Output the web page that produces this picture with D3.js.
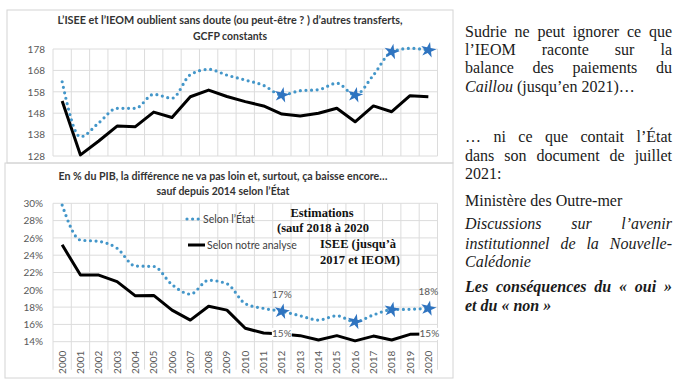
<!DOCTYPE html>
<html lang="fr">
<head>
<meta charset="utf-8">
<title>Transferts ISEE / IEOM</title>
<script src="https://d3js.org/d3.v7.min.js"></script>
<style>
    body { margin: 0; background: #fff; }
    #wrap { position: relative; width: 684px; height: 385px; overflow: hidden; }
    .note {
        position: absolute;
        left: 465px;
        width: 207px;
        font-family: "Liberation Serif", "Times New Roman", serif;
        font-size: 16px;
        line-height: 18px;
        color: #1a1a1a;
        white-space: nowrap;
    }
    .just { text-align: justify; text-align-last: justify; }
</style>
</head>
<body>
<div id="wrap">
    <svg id="chart" width="684" height="385"></svg>
</div>
<script>
// categories
var years = ["2000","2001","2002","2003","2004","2005","2006","2007","2008","2009","2010",
             "2011","2012","2013","2014","2015","2016","2017","2018","2019","2020"];

// top chart : GCFP constants
var topEtat     = [162.7,137.0,143.5,150.3,150.3,156.8,155.0,166.0,168.5,165.8,163.5,
                   161.0,156.5,158.5,159.0,162.0,156.5,165.8,176.7,178.3,177.5];
var topAnalyse  = [153.7,128.5,135.0,142.0,141.7,148.5,146.0,155.7,158.8,155.8,153.4,
                   151.4,147.6,146.7,148.0,150.3,144.0,151.4,148.7,156.2,155.7];
var topTicks = [128, 138, 148, 158, 168, 178];

// bottom chart : % du PIB
var pibEtat     = [29.8,25.75,25.6,24.8,22.75,22.7,20.6,19.5,21.1,20.7,18.4,
                   17.85,17.5,17.0,16.5,17.0,16.3,17.1,17.7,17.75,17.85];
var pibAnalyse  = [25.2,21.7,21.7,20.95,19.3,19.35,17.65,16.5,18.1,17.65,15.55,
                   15.0,14.9,14.7,14.2,14.7,14.1,14.65,14.2,14.85,14.9];
var pibTicks = [14, 16, 18, 20, 22, 24, 26, 28, 30];

var markerYears = ["2012", "2016", "2018", "2020"];
var etatLabels = [{ year: "2012", text: "17%" }, { year: "2020", text: "18%" }];
var analyseLabels = [{ year: "2012", text: "15%" }, { year: "2020", text: "15%" }];

var legendNames = ["Selon l\u2019État", "Selon notre analyse"];
var annotation = ["Estimations", "(sauf 2018 à 2020", "ISEE (jusqu\u2019à", "2017 et IEOM)"];

var noteLines = [
    { html: "Sudrie ne peut ignorer ce que", y: 23, just: true },
    { html: "l\u2019IEOM raconte sur la", y: 41, just: true },
    { html: "balance des paiements du", y: 59, just: true },
    { html: "<i>Caillou</i> (jusqu\u2019en 2021)\u2026", y: 78 },
    { html: "\u2026 ni ce que contait l\u2019État", y: 128, just: true },
    { html: "dans son document de juillet", y: 147, just: true },
    { html: "2021:", y: 165 },
    { html: "Ministère des Outre-mer", y: 192 },
    { html: "<i>Discussions sur l\u2019avenir</i>", y: 215, just: true },
    { html: "<i>institutionnel de la Nouvelle-</i>", y: 235, just: true },
    { html: "<i>Calédonie</i>", y: 253 },
    { html: "<b><i>Les conséquences du « oui »</i></b>", y: 278, just: true },
    { html: "<b><i>et du « non »</i></b>", y: 297 }
];

var svg = d3.select("#chart");
var sans = "Lato, 'Open Sans', sans-serif";
var gridColor = "#dcdcdc";
var dotColor = "#4396c9";
var markColor = "#2f74c0";

var x = d3.scaleBand().domain(years).range([53, 437.5]);
function cx(year) { return x(year) + x.bandwidth() / 2; }

function drawPanel(opt) {
    var g = svg.append("g");
    var y = opt.y;
    var r = y.range();

    // frame
    g.append("rect")
        .attr("x", opt.box[0]).attr("y", opt.box[1])
        .attr("width", opt.box[2]).attr("height", opt.box[3])
        .attr("fill", "none").attr("stroke", "#d4d4d4");

    // grid
    g.selectAll(".hgrid").data(opt.ticks).enter().append("line")
        .attr("x1", 53).attr("x2", 437.5)
        .attr("y1", function(d) { return y(d); })
        .attr("y2", function(d) { return y(d); })
        .attr("stroke", gridColor);
    g.selectAll(".vgrid").data(years.concat(["end"])).enter().append("line")
        .attr("x1", function(d) { return d === "end" ? 437.5 : x(d); })
        .attr("x2", function(d) { return d === "end" ? 437.5 : x(d); })
        .attr("y1", r[1]).attr("y2", r[0] + (opt.gridExtra || 0))
        .attr("stroke", gridColor);

    // y axis
    g.append("g")
        .attr("transform", "translate(53,0)")
        .call(d3.axisLeft(y).tickValues(opt.ticks).tickSize(0).tickPadding(opt.pad).tickFormat(opt.fmt))
        .call(function(a) { a.select(".domain").remove(); })
        .selectAll("text")
        .style("font-family", sans).style("font-size", "10px").attr("fill", "#595959");

    // titles
    opt.titles.forEach(function(t) {
        g.append("text")
            .attr("x", t.x).attr("y", t.y)
            .attr("text-anchor", "middle")
            .attr("textLength", t.w).attr("lengthAdjust", "spacingAndGlyphs")
            .style("font-family", sans).style("font-weight", "bold").style("font-size", "11px")
            .attr("fill", "#333")
            .text(t.text);
    });

    var solid = d3.line()
        .x(function(d, i) { return cx(years[i]); })
        .y(function(d) { return y(d); });

    g.append("path")
        .datum(opt.analyse)
        .attr("d", solid)
        .attr("fill", "none").attr("stroke", "#000")
        .attr("stroke-width", 3).attr("stroke-linejoin", "round");

    g.append("path")
        .datum(opt.etat)
        .attr("d", solid.curve(d3.curveMonotoneX))
        .attr("fill", "none").attr("stroke", dotColor)
        .attr("stroke-width", 3.2).attr("stroke-linecap", "round")
        .attr("stroke-dasharray", "0 5.6");

    g.selectAll(".mark").data(markerYears).enter().append("path")
        .attr("d", d3.symbol(d3.symbolStar, 75))
        .attr("transform", function(d) {
            return "translate(" + cx(d) + "," + y(opt.etat[years.indexOf(d)]) + ") rotate(12)";
        })
        .attr("fill", markColor);
    return g;
}

// top chart
drawPanel({
    box: [7, 10, 446, 153],
    y: d3.scaleLinear().domain([128, 178]).range([156, 49]),
    ticks: topTicks, pad: 8, fmt: function(d) { return d; },
    etat: topEtat, analyse: topAnalyse,
    titles: [
        { text: "L\u2019ISEE et l\u2019IEOM oublient sans doute (ou peut-être ? ) d\u2019autres transferts,", x: 230, y: 24, w: 345 },
        { text: "GCFP constants", x: 230, y: 40, w: 74 }
    ]
});

// bottom chart
var yPib = d3.scaleLinear().domain([14, 30]).range([341.7, 203.3]);
var gb = drawPanel({
    box: [5, 163, 448, 215],
    y: yPib,
    ticks: pibTicks, pad: 10, fmt: function(d) { return d + "%"; },
    gridExtra: 28,
    etat: pibEtat, analyse: pibAnalyse,
    titles: [
        { text: "En % du PIB, la différence ne va pas loin et, surtout, ça baisse encore\u2026", x: 223, y: 180, w: 329 },
        { text: "sauf depuis 2014 selon l\u2019État", x: 223, y: 195, w: 133 }
    ]
});

// x axis (years)
gb.append("g")
    .attr("transform", "translate(0," + yPib(14) + ")")
    .call(d3.axisBottom(x).tickSize(0))
    .call(function(a) { a.select(".domain").remove(); })
    .selectAll("text")
    .attr("transform", "rotate(-90)")
    .attr("x", -9).attr("y", 0).attr("dy", "0.35em")
    .attr("text-anchor", "end")
    .style("font-family", sans).style("font-size", "10px").attr("fill", "#595959");

// data labels
gb.selectAll(".elab").data(etatLabels).enter().append("text")
    .attr("x", function(d) { return cx(d.year); })
    .attr("y", function(d) { return yPib(pibEtat[years.indexOf(d.year)]) - 13; })
    .attr("text-anchor", "middle")
    .style("font-family", sans).style("font-size", "10px").attr("fill", "#595959")
    .text(function(d) { return d.text; });

var alab = gb.selectAll(".alab").data(analyseLabels).enter().append("g")
    .attr("transform", function(d) {
        return "translate(" + (cx(d.year) + (d.year === "2020" ? 1 : 0)) + "," + yPib(pibAnalyse[years.indexOf(d.year)]) + ")";
    });
alab.append("rect").attr("x", -10).attr("y", -6).attr("width", 20).attr("height", 12).attr("fill", "#fff");
alab.append("text")
    .attr("text-anchor", "middle").attr("dy", "0.35em")
    .style("font-family", sans).style("font-size", "10px").attr("fill", "#595959")
    .text(function(d) { return d.text; });

// legend
var leg = gb.append("g");
leg.append("line").attr("x1", 187).attr("x2", 200).attr("y1", 219).attr("y2", 219)
    .attr("stroke", dotColor).attr("stroke-width", 3.2).attr("stroke-linecap", "round")
    .attr("stroke-dasharray", "0 5.6");
leg.append("line").attr("x1", 188).attr("x2", 205).attr("y1", 245).attr("y2", 245)
    .attr("stroke", "#000").attr("stroke-width", 3);
leg.selectAll("text").data(legendNames).enter().append("text")
    .attr("x", function(d, i) { return i === 0 ? 203 : 207; })
    .attr("y", function(d, i) { return i === 0 ? 223 : 249; })
    .style("font-family", sans).style("font-size", "10.5px").attr("fill", "#404040")
    .text(function(d) { return d; });

// annotation
var annPos = [{ x: 322, y: 217, a: "middle" }, { x: 277, y: 232, a: "start" },
              { x: 320, y: 248, a: "start" }, { x: 320, y: 264, a: "start" }];
gb.selectAll(".ann").data(annotation).enter().append("text")
    .attr("x", function(d, i) { return annPos[i].x; })
    .attr("y", function(d, i) { return annPos[i].y; })
    .attr("text-anchor", function(d, i) { return annPos[i].a; })
    .style("font-family", "'Liberation Serif', 'Times New Roman', serif")
    .style("font-weight", "bold").style("font-size", "12.5px").attr("fill", "#111")
    .text(function(d) { return d; });

// text on the right
d3.select("#wrap").selectAll(".note").data(noteLines).enter().append("div")
    .attr("class", function(d) { return d.just ? "note just" : "note"; })
    .style("top", function(d) { return d.y + "px"; })
    .html(function(d) { return d.html; });
</script>
</body>
</html>
